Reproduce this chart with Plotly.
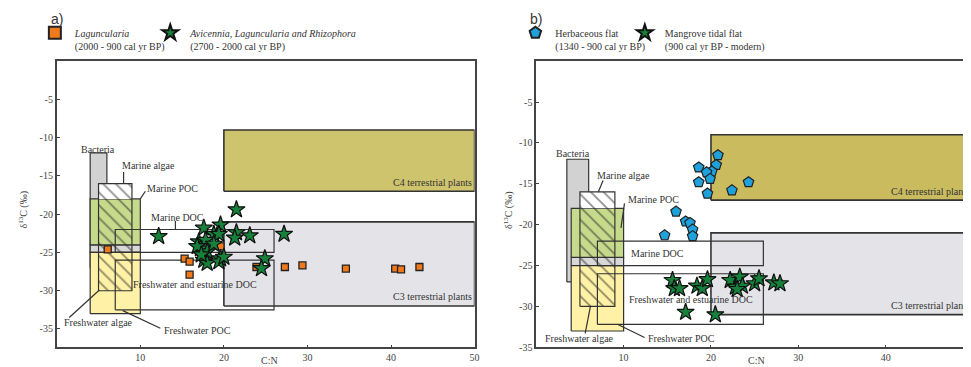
import plotly.graph_objects as go

# ---------------- data ----------------
# Source boxes: (C:N min, C:N max, d13C min, d13C max)
box_c3_a = (20, 50, -32, -21)
box_c3_b = (20, 50, -31, -21)
box_c4 = (20, 50, -17, -9)
box_bacteria_a = (4, 6, -27, -12)
box_bacteria_b = (3.5, 6, -27, -12)
box_band = (4, 10, -25, -24)
box_marine_poc = (4, 10, -24, -18)
box_fresh_poc = (4, 10, -33, -25)
box_algae = (5, 9, -30, -16)
box_marine_doc = (7, 26, -25, -22)
box_fresh_doc_a = (7, 26, -32.5, -26)
box_fresh_doc_b = (7, 26, -32.2, -26)

# Panel a samples
lag_cn = [6.1, 15.3, 15.9, 15.9, 19.6, 23.9, 27.3, 29.4, 34.6, 40.5, 41.2, 43.4]
lag_d13c = [-24.6, -25.8, -26.2, -27.9, -24.2, -26.9, -26.9, -26.7, -27.1, -27.1, -27.2, -26.9]
avi_cn = [12.2, 21.5, 17.6, 19.6, 18.8, 19.4, 21.5, 21.3, 23.1, 27.2, 17.0, 17.8,
          17.2, 18.0, 18.8, 16.8, 17.6, 18.0, 19.6, 19.4, 24.9, 24.5, 17.3, 20.0]
avi_d13c = [-22.9, -19.4, -21.8, -21.4, -22.6, -22.6, -22.4, -23.1, -22.8, -22.6, -23.6, -23.4,
            -24.5, -24.9, -23.9, -24.2, -26.0, -26.4, -25.8, -26.2, -25.8, -27.1, -25.3, -25.6]

# Panel b samples
herb_cn = [20.8, 18.6, 20.6, 20.1, 19.5, 19.9, 18.6, 19.6, 22.4, 24.3, 16.0, 17.1, 17.6, 17.9, 17.9, 14.7]
herb_d13c = [-11.5, -13.0, -12.7, -13.5, -13.6, -14.4, -14.8, -16.2, -15.8, -14.8, -18.4, -19.6,
             -19.8, -20.6, -21.4, -21.3]
mang_cn = [15.6, 15.8, 16.4, 18.4, 19.0, 19.6, 17.1, 20.5, 22.2, 22.8, 23.3, 23.6, 23.0, 25.0, 25.5, 27.2, 27.9]
mang_d13c = [-26.8, -27.8, -27.8, -27.5, -27.8, -26.7, -30.7, -31.0, -26.8, -27.6, -26.4, -27.5,
             -27.9, -27.2, -26.6, -27.1, -27.2]

x_ticks = [10, 20, 30, 40, 50]
y_ticks = [-5, -10, -15, -20, -25, -30, -35]
x_ticktext = ["10", "20", "30", "40", "50"]
y_ticktext = ["-5", "-10", "-15", "-20", "-25", "-30", "-35"]

# ---------------- styling ----------------
SERIF = "Liberation Serif"
SANS = "Liberation Sans"
C3_FILL = "#e4e4e8"
C4_FILL_A = "#cfc46e"
C4_FILL_B = "#c9bb5e"
BACT_FILL = "#d2d2d2"
BAND_FILL = "#d8d8d8"
GREEN_FILL = "#c6da8c"
YELLOW_FILL = "#fff2a6"
EDGE = "#333333"

fig = go.Figure()


def rect(box, fill, xa, ya, width=1.2, color=EDGE, pattern=None):
    x0, x1, y0, y1 = box
    kw = dict(
        x=[x0, x1, x1, x0, x0], y=[y0, y0, y1, y1, y0],
        mode="lines", line=dict(color=color, width=width),
        hoverinfo="skip", showlegend=False, xaxis=xa, yaxis=ya,
    )
    if pattern is not None:
        kw.update(fill="toself", fillcolor="rgba(0,0,0,0)", fillpattern=pattern)
    elif fill is not None:
        kw.update(fill="toself", fillcolor=fill)
    fig.add_trace(go.Scatter(**kw))


def leader(xs, ys, xa, ya):
    fig.add_trace(go.Scatter(x=xs, y=ys, mode="lines", line=dict(color=EDGE, width=1.2),
                             hoverinfo="skip", showlegend=False, xaxis=xa, yaxis=ya))


hatch = dict(shape="\\", fgcolor="#222222", bgcolor="rgba(0,0,0,0)", size=9, solidity=0.2)

panels = [
    ("x", "y", box_c3_a, box_bacteria_a, box_fresh_doc_a, C4_FILL_A),
    ("x2", "y2", box_c3_b, box_bacteria_b, box_fresh_doc_b, C4_FILL_B),
]
for xa, ya, c3, bact, fdoc, c4fill in panels:
    rect(c3, C3_FILL, xa, ya, width=1.6)
    rect(box_c4, c4fill, xa, ya, width=1.6)
    rect(bact, BACT_FILL, xa, ya)
    rect(box_band, BAND_FILL, xa, ya)
    rect(box_marine_poc, GREEN_FILL, xa, ya)
    rect(box_fresh_poc, YELLOW_FILL, xa, ya)
    # white part of the marine algae box above marine POC
    rect((box_algae[0], box_algae[1], box_marine_poc[3], box_algae[3]), "white", xa, ya, width=0)
    rect(box_algae, None, xa, ya, pattern=hatch)
    rect(box_marine_doc, None, xa, ya)
    rect(fdoc, None, xa, ya)

# leader lines panel a
leader([8, 8], [-14.5, -16], "x", "y")
leader([10.6, 10.0], [-17.0, -18.0], "x", "y")
leader([14.2, 14.2], [-20.9, -22], "x", "y")
leader([1.5, 5.1], [-33.5, -29.9], "x", "y")
leader([12.4, 7.9], [-34.9, -32.6], "x", "y")
# leader lines panel b
leader([7.65, 7.1], [-14.6, -16], "x2", "y2")
leader([10.1, 9.7], [-17.4, -20.4], "x2", "y2")
leader([5.6, 6.2], [-33.3, -30], "x2", "y2")
leader([12.4, 9.35], [-33.8, -32.2], "x2", "y2")

STAR = dict(symbol="star", size=13, color="#17803a", line=dict(color="#111", width=1.2))

# samples
fig.add_trace(go.Scatter(
    x=lag_cn, y=lag_d13c, mode="markers", xaxis="x", yaxis="y",
    name="<i>Laguncularia</i><br>(2000 - 900 cal yr BP)", legend="legend",
    marker=dict(symbol="square", size=7, color="#ee7a1c", line=dict(color="#222", width=1.3)),
))
fig.add_trace(go.Scatter(
    x=avi_cn, y=avi_d13c, mode="markers", xaxis="x", yaxis="y",
    name="<i>Avicennia, Laguncularia and Rhizophora</i><br>(2700 - 2000 cal yr BP)", legend="legend2",
    marker=STAR,
))
fig.add_trace(go.Scatter(
    x=herb_cn, y=herb_d13c, mode="markers", xaxis="x2", yaxis="y2",
    name="Herbaceous flat<br>(1340 - 900 cal yr BP)", legend="legend3",
    marker=dict(symbol="pentagon", size=11, color="#1fa2dc", line=dict(color="#222", width=1.2)),
))
fig.add_trace(go.Scatter(
    x=mang_cn, y=mang_d13c, mode="markers", xaxis="x2", yaxis="y2",
    name="Mangrove tidal flat<br>(900 cal yr BP - modern)", legend="legend4",
    marker=STAR,
))

W, H = 971, 367


def px_x(p):
    return p / W


def px_y(p):
    return 1 - p / H


axis_common = dict(
    showgrid=False, zeroline=False, showline=True, linecolor="#444", linewidth=1.6, mirror=True,
    ticks="inside", ticklen=3, tickcolor="#444",
    tickfont=dict(family=SERIF, size=10, color="#444"),
)


def legend_at(xpx):
    return dict(orientation="h", x=px_x(xpx), y=px_y(12), xanchor="left", yanchor="top",
                font=dict(family=SERIF, size=10, color="#333"), valign="top",
                bgcolor="rgba(0,0,0,0)", itemsizing="constant")


fig.update_layout(
    width=W, height=H, margin=dict(l=0, r=0, t=0, b=0),
    paper_bgcolor="white", plot_bgcolor="white",
    xaxis=dict(domain=[px_x(49), px_x(469)], range=[0, 50], tickvals=x_ticks, ticktext=x_ticktext,
               anchor="y", **axis_common),
    yaxis=dict(domain=[px_y(345), px_y(54)], range=[-37.4, 0], tickvals=y_ticks, ticktext=y_ticktext,
               anchor="x", **axis_common),
    xaxis2=dict(domain=[px_x(531), px_x(970)], range=[0, 50], tickvals=x_ticks, ticktext=x_ticktext,
                anchor="y2", **axis_common),
    yaxis2=dict(domain=[px_y(345), px_y(54)], range=[-35, 0], tickvals=y_ticks, ticktext=y_ticktext,
                anchor="x2", **axis_common),
    legend=legend_at(27),
    legend2=legend_at(143),
    legend3=legend_at(510),
    legend4=legend_at(620),
)

ann = []


def label(text, x, y, xa, ya, size=10, anchor="center", color="#333"):
    ann.append(dict(text=text, x=x, y=y, xref=xa, yref=ya, showarrow=False, xanchor=anchor,
                    yanchor="middle", font=dict(family=SERIF, size=size, color=color)))


for xa, ya, spec in [
    ("x", "y", dict(bact=(4.9, -11.5), malg=(11.0, -13.7), mpoc=(13.9, -16.7), mdoc=(14.4, -20.4),
                    fdoc=(16.6, -29.2), falg=(5.0, -34.1), fpoc=(16.8, -35.2), c4=-15.9, c3=-30.7)),
    ("x2", "y2", dict(bact=(4.2, -11.35), malg=(10.0, -14.0), mpoc=(13.4, -16.9), mdoc=(13.9, -23.5),
                      fdoc=(17.7, -29.2), falg=(4.9, -33.9), fpoc=(16.6, -33.9), c4=-15.9, c3=-29.9)),
]:
    label("Bacteria", *spec["bact"], xa, ya)
    label("Marine algae", *spec["malg"], xa, ya)
    label("Marine POC", *spec["mpoc"], xa, ya)
    label("Marine DOC", *spec["mdoc"], xa, ya)
    label("Freshwater and estuarine DOC", *spec["fdoc"], xa, ya)
    label("Freshwater algae", *spec["falg"], xa, ya)
    label("Freshwater POC", *spec["fpoc"], xa, ya)
    label("C4 terrestrial plants", 49.9, spec["c4"], xa, ya, anchor="right")
    label("C3 terrestrial plants", 49.9, spec["c3"], xa, ya, anchor="right")

# axis titles and panel letters
for xc in (16, 503):
    ann.append(dict(text="δ<sup>13</sup>C (‰)", x=px_x(xc), y=px_y(205), xref="paper", yref="paper",
                    showarrow=False, textangle=-90, xanchor="center", yanchor="middle",
                    font=dict(family=SERIF, size=10, color="#444")))
for xc in (263, 752):
    ann.append(dict(text="C:N", x=px_x(xc), y=px_y(358), xref="paper", yref="paper",
                    showarrow=False, xanchor="center", yanchor="middle",
                    font=dict(family=SERIF, size=10, color="#444")))
for txt, xl in (("a)", 41), ("b)", 523)):
    ann.append(dict(text=txt, x=px_x(xl), y=px_y(11), xref="paper", yref="paper",
                    showarrow=False, xanchor="left", yanchor="middle",
                    font=dict(family=SANS, size=14, color="#333")))

fig.update_layout(annotations=ann)
fig.write_html("out.html")
